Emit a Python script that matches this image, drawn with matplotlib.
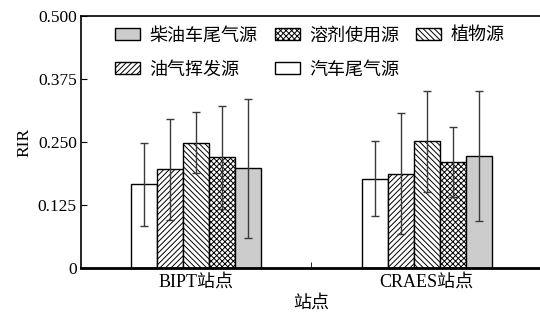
import matplotlib
matplotlib.use('Agg')
import matplotlib.pyplot as plt
import numpy as np

plt.rcParams['font.family'] = ['Liberation Serif', 'Noto Sans CJK SC']
plt.rcParams['hatch.linewidth'] = 0.7

sites = ['BIPT站点', 'CRAES站点']
sources = ['汽车尾气源', '油气挥发源', '植物源', '溶剂使用源', '柴油车尾气源']
colors = ['white', 'white', 'white', 'white', '#cccccc']
hatches = ['', '//////', '\\\\\\\\\\\\', 'xxxxxx', '']

# mean RIR and error per source, [BIPT, CRAES]
rir = [
    [0.166, 0.177],
    [0.196, 0.187],
    [0.249, 0.251],
    [0.220, 0.210],
    [0.198, 0.223],
]
err = [
    [0.083, 0.074],
    [0.100, 0.120],
    [0.060, 0.100],
    [0.102, 0.070],
    [0.138, 0.129],
]

fig = plt.figure(figsize=(5.4, 3.18), dpi=100)
ax = fig.add_axes([0.15, 0.1572, 0.8537, 0.7925])

x = np.arange(len(sites))
w = 0.113
handles = {}
for i, (src, c, h) in enumerate(zip(sources, colors, hatches)):
    pos = x + (i - 2) * w
    b = ax.bar(pos, rir[i], w, color=c, edgecolor='black', hatch=h,
               linewidth=1.0, label=src)
    ax.errorbar(pos, rir[i], yerr=err[i], fmt='none', ecolor='#3a3a3a',
                elinewidth=1.0, capsize=3, capthick=1.0)
    handles[src] = b

# legend fills column by column -> rows: 柴油/溶剂/植物, 油气/汽车
order = ['柴油车尾气源', '油气挥发源', '溶剂使用源', '汽车尾气源', '植物源']
ax.legend([handles[s] for s in order], order, ncol=3, frameon=False,
          loc='upper left', bbox_to_anchor=(0.074, 0.955), fontsize=13,
          borderpad=0, borderaxespad=0, handlelength=1.4, handleheight=0.7,
          columnspacing=0.95, labelspacing=0.95, handletextpad=0.5)

ax.set_xlim(-0.5, 1.5)
ax.set_ylim(0, 0.5)
ax.set_yticks([0, 0.125, 0.25, 0.375, 0.5])
ax.set_yticklabels(['0', '0.125', '0.250', '0.375', '0.500'])
ax.set_xticks(x)
ax.set_xticklabels(sites)
ax.set_xticks([0.5], minor=True)
ax.tick_params(axis='x', which='major', length=0, labelsize=13, pad=4)
ax.tick_params(axis='x', which='minor', direction='in', length=4)
ax.tick_params(axis='y', direction='in', length=4, labelsize=12.5, pad=3)
ax.set_xlabel('站点', fontsize=13, labelpad=3)
ax.set_ylabel('RIR', fontsize=12.5, labelpad=4)

ax.spines['bottom'].set_linewidth(2.0)
ax.spines['left'].set_linewidth(1.2)
ax.spines['top'].set_linewidth(1.2)
ax.spines['right'].set_visible(False)

fig.savefig('out.png', dpi=100)
